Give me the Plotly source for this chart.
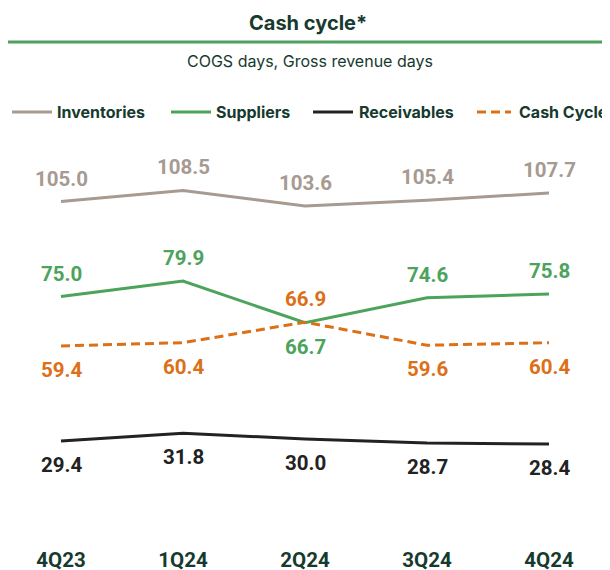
import plotly.graph_objects as go

# ---- data ----
quarters = ["4Q23", "1Q24", "2Q24", "3Q24", "4Q24"]
inventories = [105.0, 108.5, 103.6, 105.4, 107.7]
suppliers = [75.0, 79.9, 66.7, 74.6, 75.8]
receivables = [29.4, 31.8, 30.0, 28.7, 28.4]
cash_cycle = [59.4, 60.4, 66.9, 59.6, 60.4]
series_names = ["Inventories", "Suppliers", "Receivables", "Cash Cycle"]

title_text = "Cash cycle*"
subtitle_text = "COGS days, Gross revenue days"

# ---- style ----
OFF = 8  # page body margin
W, H = 610 - OFF, 570 - OFF
M_T, M_B = 146, 36
PLOT_H = H - M_T - M_B

C_INV = "#a69a91"
C_SUP = "#4ca35b"
C_REC = "#222222"
C_CASH = "#dc7018"
C_DARK = "#163a2e"
NUM_FONT = "Roboto"
TXT_FONT = "Inter"


def py(s):
    """screen pixel y -> paper y"""
    return (H - M_B - (s - OFF)) / PLOT_H


def px(s):
    return (s - OFF) / W


fig = go.Figure()

series = [
    (inventories, C_INV, "solid"),
    (suppliers, C_SUP, "solid"),
    (receivables, C_REC, "solid"),
    (cash_cycle, C_CASH, "9px,5px"),
]

for (vals, color, dash), name in zip(series, series_names):
    fig.add_trace(go.Scatter(
        x=quarters, y=vals, mode="lines", name=name,
        line=dict(color=color, width=3, dash=dash),
        showlegend=False, hoverinfo="skip",
    ))

annotations = []
# label placement: above (+1) or below (-1) per point
inv_pos = [1, 1, 1, 1, 1]
sup_pos = [1, 1, -1, 1, 1]
rec_pos = [-1, -1, -1, -1, -1]
cash_pos = [-1, -1, 1, -1, -1]
for vals, color, pos in [
    (inventories, C_INV, inv_pos),
    (suppliers, C_SUP, sup_pos),
    (receivables, C_REC, rec_pos),
    (cash_cycle, C_CASH, cash_pos),
]:
    for q, v, p in zip(quarters, vals, pos):
        annotations.append(dict(
            x=q, y=v, xref="x", yref="y", text=f"{v:.1f}", showarrow=False,
            yshift=23 if p > 0 else -24,
            font=dict(family=NUM_FONT, size=20.5, color=color, weight="bold"),
        ))

# title, subtitle
annotations.append(dict(
    x=px(308), y=py(23), xref="paper", yref="paper", text=f"<b>{title_text}</b>",
    showarrow=False, xanchor="center", yanchor="middle",
    font=dict(family=TXT_FONT, size=20, color=C_DARK),
))
annotations.append(dict(
    x=px(310), y=py(61), xref="paper", yref="paper", text=subtitle_text,
    showarrow=False, xanchor="center", yanchor="middle",
    font=dict(family=TXT_FONT, size=16, color=C_DARK),
))

shapes = [dict(
    type="line", xref="paper", yref="paper", x0=px(8), x1=px(612),
    y0=py(42), y1=py(42), line=dict(color="#4f9f5f", width=3),
)]

# custom legend: (name, colour, dash, line x0, line x1, text x, anchor)
legend_items = [
    (series_names[0], C_INV, "solid", 12, 52, 55, "left"),
    (series_names[1], C_SUP, "solid", 171, 211, 214, "left"),
    (series_names[2], C_REC, "solid", 313, 353, 357, "left"),
    (series_names[3], C_CASH, "9px,5px", 477, 511, 609, "right"),
]
for name, color, dash, x0, x1, tx, anchor in legend_items:
    shapes.append(dict(
        type="line", xref="paper", yref="paper", x0=px(x0), x1=px(x1),
        y0=py(112), y1=py(112), line=dict(color=color, width=3, dash=dash),
    ))
    annotations.append(dict(
        x=px(tx), y=py(112), xref="paper", yref="paper", text=f"<b>{name}</b>",
        showarrow=False, xanchor=anchor, yanchor="middle",
        font=dict(family=TXT_FONT, size=16, color=C_DARK),
    ))

x_first = 61 - OFF
step = 122
fig.update_layout(
    width=W, height=H, autosize=False,
    margin=dict(l=0, r=0, t=M_T, b=M_B, pad=0),
    paper_bgcolor="white", plot_bgcolor="white",
    showlegend=False,
    annotations=annotations, shapes=shapes,
    xaxis=dict(
        type="category", range=[-x_first / step, (W - x_first) / step],
        showgrid=False, zeroline=False, automargin=False,
        showline=False, ticks="", ticklabelstandoff=11,
        tickfont=dict(family=NUM_FONT, size=20.5, color=C_DARK, weight="bold"),
        fixedrange=True,
    ),
    yaxis=dict(
        range=[0, 120], visible=False, showgrid=False, zeroline=False,
        automargin=False, fixedrange=True,
    ),
)

fig.write_html("out.html")
